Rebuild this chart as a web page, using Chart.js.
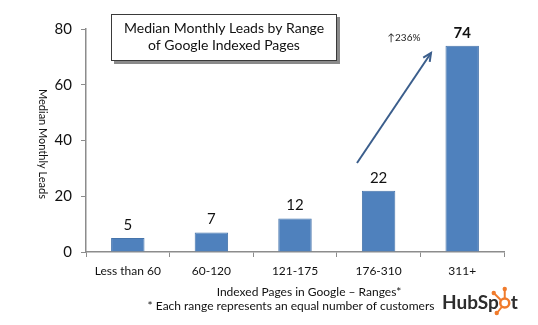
<!DOCTYPE html>
<html>
<head>
<meta charset="utf-8">
<script src="https://cdn.jsdelivr.net/npm/chart.js@4/dist/chart.umd.min.js"></script>
<style>
  html, body { margin: 0; padding: 0; background: #fff; }
  #wrap { width: 538px; height: 325px; position: relative; }
</style>
</head>
<body>
<div id="wrap"><canvas id="leadsChart"></canvas></div>
<script>
// median monthly leads per range of indexed pages
var ranges = ["Less than 60", "60-120", "121-175", "176-310", "311+"];
var medianLeads = [5, 7, 12, 22, 74];
var yTicks = [0, 20, 40, 60, 80];

var titleLines = ["Median Monthly Leads by Range", "of Google Indexed Pages"];
var growthNote = "\u2191236%";
var xTitle = "Indexed Pages in Google \u2013 Ranges*";
var footNote = "* Each range represents an equal number of customers";

var barBlue = "#4f81bd";
var axisGray = "#8c8c8c";
var font = "Lato, 'Open Sans', sans-serif";

// labels over the bars, title box, arrow and other extra text
var extrasPlugin = {
    id: "extras",
    afterDatasetsDraw: function (chart) {
        var ctx = chart.ctx;
        var meta = chart.getDatasetMeta(0);
        ctx.save();
        ctx.fillStyle = "#111";
        ctx.textAlign = "center";
        ctx.textBaseline = "middle";
        meta.data.forEach(function (bar, i) {
            var last = i === medianLeads.length - 1;
            ctx.font = (last ? "bold " : "") + "15px " + font;
            ctx.fillText(String(medianLeads[i]), bar.x, bar.y - 13);
        });

        // title box with a drop shadow
        ctx.fillStyle = "#8a8a8a";
        ctx.fillRect(114, 17, 226, 47);
        ctx.fillStyle = "#fff";
        ctx.fillRect(111, 14, 226, 47);
        ctx.strokeStyle = "#3a3a3a";
        ctx.lineWidth = 1;
        ctx.strokeRect(111.5, 14.5, 225, 46);
        ctx.fillStyle = "#111";
        ctx.font = "14px " + font;
        ctx.fillText(titleLines[0], 224, 28);
        ctx.fillText(titleLines[1], 224, 45);

        // growth arrow between the last two ranges
        var x0 = 357, y0 = 163, x1 = 431, y1 = 53;
        ctx.strokeStyle = "#3b5e8c";
        ctx.lineWidth = 2;
        ctx.beginPath();
        ctx.moveTo(x0, y0);
        ctx.lineTo(x1, y1);
        ctx.stroke();
        var ang = Math.atan2(y1 - y0, x1 - x0);
        ctx.beginPath();
        ctx.moveTo(x1 - 9 * Math.cos(ang - 0.45), y1 - 9 * Math.sin(ang - 0.45));
        ctx.lineTo(x1, y1);
        ctx.lineTo(x1 - 9 * Math.cos(ang + 0.45), y1 - 9 * Math.sin(ang + 0.45));
        ctx.stroke();
        ctx.fillStyle = "#222";
        ctx.font = "10px " + font;
        ctx.fillText(growthNote, 404, 38);

        // y axis title, reading top to bottom
        ctx.save();
        ctx.translate(43, 144);
        ctx.rotate(Math.PI / 2);
        ctx.font = "11px " + font;
        ctx.fillStyle = "#111";
        ctx.fillText("Median Monthly Leads", 0, 0);
        ctx.restore();

        // x axis title and footnote
        ctx.font = "12px " + font;
        ctx.fillStyle = "#111";
        ctx.fillText(xTitle, 309, 292);
        ctx.fillText(footNote, 291, 306);

        // HubSpot wordmark
        ctx.textAlign = "left";
        ctx.textBaseline = "alphabetic";
        ctx.font = "bold 19px " + font;
        ctx.fillStyle = "#2d2d2d";
        var hx = 442, hy = 309;
        ctx.fillText("HubSp", hx, hy);
        var w = ctx.measureText("HubSp").width;
        var cx = hx + w + 6, cy = hy - 6;
        ctx.strokeStyle = "#f07b2c";
        ctx.fillStyle = "#f07b2c";
        ctx.lineWidth = 2.5;
        ctx.beginPath();
        ctx.arc(cx, cy, 4.5, 0, Math.PI * 2);
        ctx.stroke();
        ctx.lineWidth = 2;
        ctx.beginPath();
        ctx.moveTo(cx, cy - 5); ctx.lineTo(cx, cy - 13);
        ctx.moveTo(cx - 4, cy - 3); ctx.lineTo(cx - 10, cy - 9);
        ctx.moveTo(cx - 3, cy + 4); ctx.lineTo(cx - 7, cy + 9);
        ctx.stroke();
        [[cx, cy - 14], [cx - 11, cy - 10], [cx - 8, cy + 10]].forEach(function (p) {
            ctx.beginPath();
            ctx.arc(p[0], p[1], 2.2, 0, Math.PI * 2);
            ctx.fill();
        });
        ctx.fillStyle = "#2d2d2d";
        ctx.fillText("t", cx + 6, hy);
        ctx.restore();
    }
};

var canvasElement = document.getElementById("leadsChart");
var config = {
    type: "bar",
    data: {
        labels: ranges,
        datasets: [{
            label: "Median monthly leads",
            data: medianLeads,
            backgroundColor: barBlue,
            borderColor: "#4674ab",
            borderWidth: 1,
            barPercentage: 0.4,
            categoryPercentage: 1
        }]
    },
    plugins: [extrasPlugin],
    options: {
        responsive: true,
        maintainAspectRatio: false,
        animation: false,
        layout: { padding: { top: 29, right: 34, left: 0, bottom: 0 } },
        plugins: {
            legend: { display: false },
            tooltip: { enabled: false }
        },
        scales: {
            x: {
                grid: { display: true, drawOnChartArea: false, tickLength: 5, color: axisGray, offset: true },
                border: { color: axisGray, width: 1.5 },
                ticks: { color: "#111", font: { family: font, size: 12 }, padding: 7, maxRotation: 0 },
                afterFit: function (scale) { scale.height = 73; }
            },
            y: {
                min: 0,
                max: 80,
                afterBuildTicks: function (scale) {
                    scale.ticks = yTicks.map(function (v) { return { value: v }; });
                },
                grid: { display: true, drawOnChartArea: false, tickLength: 5, color: axisGray },
                border: { color: axisGray, width: 1.5 },
                ticks: { color: "#111", font: { family: font, size: 15 }, padding: 9 },
                afterFit: function (scale) { scale.width = 86; }
            }
        }
    }
};

var leadsChart = new Chart(canvasElement, config);
</script>
</body>
</html>
